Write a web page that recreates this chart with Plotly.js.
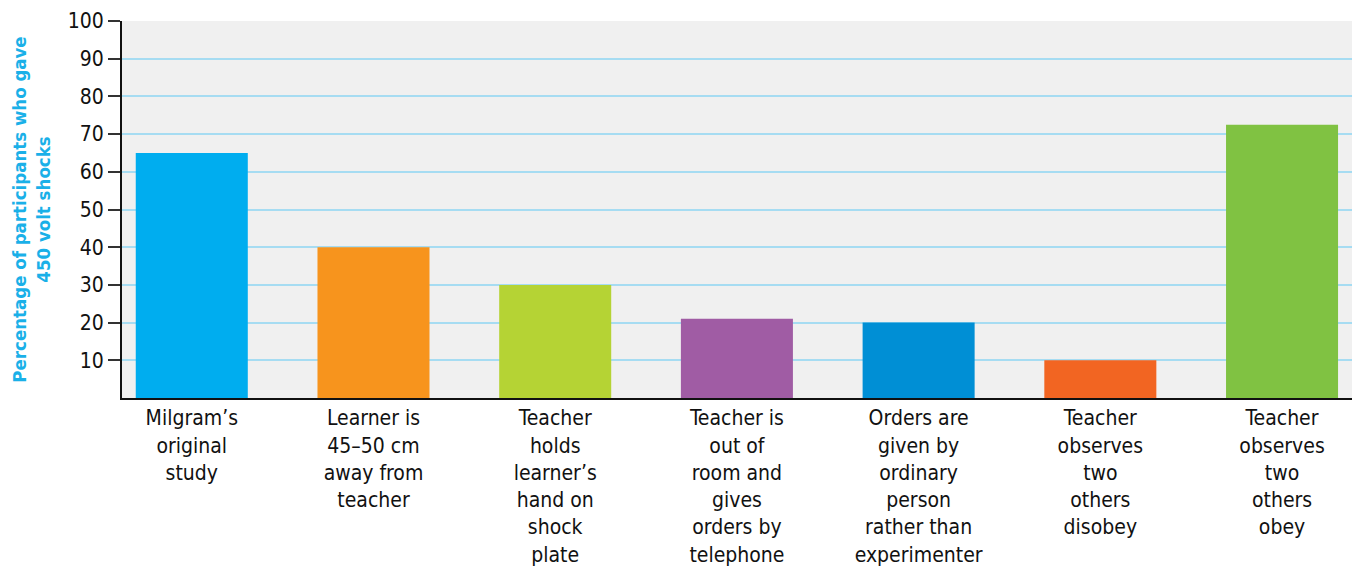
<!DOCTYPE html>
<html>
<head>
<meta charset="utf-8">
<script src="https://cdn.plot.ly/plotly-3.0.1.min.js"></script>
<style>html,body{margin:0;padding:0;background:#fff;}#chart{width:1352px;height:570px;}</style>
</head>
<body>
<div id="chart"></div>
<script>
const categories = [
  "Milgram’s<br>original<br>study",
  "Learner is<br>45–50 cm<br>away from<br>teacher",
  "Teacher<br>holds<br>learner’s<br>hand on<br>shock<br>plate",
  "Teacher is<br>out of<br>room and<br>gives<br>orders by<br>telephone",
  "Orders are<br>given by<br>ordinary<br>person<br>rather than<br>experimenter",
  "Teacher<br>observes<br>two<br>others<br>disobey",
  "Teacher<br>observes<br>two<br>others<br>obey"
];
const percentages = [65, 40, 30, 21, 20, 10, 72.5];
const barColors = ["#00adef", "#f7941d", "#b5d334", "#a05ca4", "#008fd5", "#f26522", "#80c242"];
const yTicks = [10, 20, 30, 40, 50, 60, 70, 80, 90, 100];

const FONT = "'Liberation Sans Narrow', 'Arial Narrow', 'DejaVu Sans Condensed', sans-serif";

const trace = {
  type: "bar",
  x: categories.map((c, i) => i),
  y: percentages,
  marker: { color: barColors, line: { width: 0 } },
  width: 0.6165,
  hoverinfo: "skip"
};

const layout = {
  width: 1352,
  height: 570,
  margin: { l: 122, r: 0, t: 21, b: 172 },
  paper_bgcolor: "#ffffff",
  plot_bgcolor: "#f0f0f0",
  showlegend: false,
  font: { family: FONT, size: 21, color: "#111" },
  xaxis: {
    range: [-0.384, 6.385],
    tickmode: "array",
    tickvals: categories.map((c, i) => i),
    ticktext: categories,
    ticks: "",
    showgrid: false,
    zeroline: false,
    showline: true,
    linecolor: "#111",
    linewidth: 2,
    tickfont: { family: FONT, size: 21, color: "#111" },
    fixedrange: true
  },
  yaxis: {
    range: [0, 100],
    tickmode: "array",
    tickvals: yTicks,
    ticktext: yTicks.map(String),
    ticks: "outside",
    ticklen: 12,
    tickwidth: 2,
    tickcolor: "#333",
    showgrid: true,
    gridcolor: "#a6dcf2",
    gridwidth: 2,
    zeroline: false,
    showline: true,
    linecolor: "#111",
    linewidth: 2,
    tickfont: { family: FONT, size: 21, color: "#111" },
    title: {
      text: "<b>Percentage of participants who gave<br>450 volt shocks</b>",
      font: { family: FONT, size: 18.5, color: "#1ab0e8" },
      standoff: 12
    },
    fixedrange: true
  }
};

Plotly.newPlot("chart", [trace], layout, { displayModeBar: false, staticPlot: true });
</script>
</body>
</html>
